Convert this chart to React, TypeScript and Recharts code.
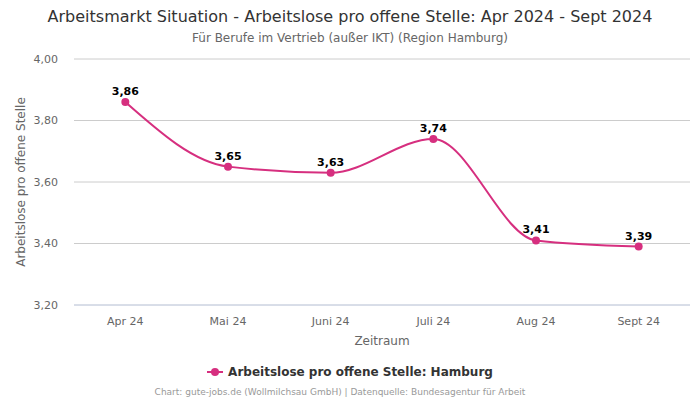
import { LineChart, Line, XAxis, YAxis, CartesianGrid, LabelList } from "recharts";

const months = ["Apr 24", "Mai 24", "Juni 24", "Juli 24", "Aug 24", "Sept 24"];
const hamburg = [3.86, 3.65, 3.63, 3.74, 3.41, 3.39];
const yTicks = [3.2, 3.4, 3.6, 3.8, 4.0];

const data = months.map((m, i) => ({ month: m, value: hamburg[i] }));

const COLOR = "#d62f7f";
const FONT = "'DejaVu Sans', sans-serif";
const fmt = (v: number) => v.toFixed(2).replace(".", ",");

export default function App() {
  return (
    <div style={{ position: "relative", width: 700, height: 400, fontFamily: FONT, background: "#fff" }}>
      <style>{"body{margin:0}"}</style>
      <div style={{ position: "absolute", top: 7, width: 700, textAlign: "center", fontSize: 16, color: "#333" }}>
        Arbeitsmarkt Situation - Arbeitslose pro offene Stelle: Apr 2024 - Sept 2024
      </div>
      <div style={{ position: "absolute", top: 31, width: 700, textAlign: "center", fontSize: 12, color: "#666" }}>
        Für Berufe im Vertrieb (außer IKT) (Region Hamburg)
      </div>
      <LineChart width={700} height={400} data={data} margin={{ top: 59, right: 10, bottom: 55, left: 0 }}>
        <CartesianGrid horizontal vertical={false} stroke="#cccccc" />
        <XAxis
          dataKey="month"
          scale="band"
          tickLine={false}
          axisLine={{ stroke: "#ccd6eb" }}
          tick={{ fontSize: 11, fill: "#666" }}
          tickMargin={6}
          height={40}
          label={{ value: "Zeitraum", position: "insideBottom", offset: 0, fontSize: 12, fill: "#666" }}
        />
        <YAxis
          domain={[3.2, 4.0]}
          ticks={yTicks}
          tickFormatter={fmt}
          axisLine={false}
          tickLine={false}
          width={74}
          tick={{ fontSize: 11, fill: "#666" }}
          tickMargin={10}
          label={{
            value: "Arbeitslose pro offene Stelle",
            angle: -90,
            position: "insideLeft",
            offset: 21,
            style: { textAnchor: "middle", fontSize: 12, fill: "#666" },
          }}
        />
        <Line
          type="monotone"
          dataKey="value"
          stroke={COLOR}
          strokeWidth={2}
          dot={{ r: 4, fill: COLOR, stroke: COLOR, strokeWidth: 0 }}
          isAnimationActive={false}
        >
          <LabelList dataKey="value" position="top" offset={7} formatter={(v: any) => fmt(Number(v))}
            style={{ fontSize: 11, fontWeight: "bold", fill: "#000" }} />
        </Line>
      </LineChart>
      <div style={{ position: "absolute", top: 365, width: 700, display: "flex", justifyContent: "center", alignItems: "center" }}>
        <svg width={16} height={12} style={{ marginRight: 5 }}>
          <line x1={0} y1={6} x2={16} y2={6} stroke={COLOR} strokeWidth={2} />
          <circle cx={8} cy={6} r={4} fill={COLOR} />
        </svg>
        <span style={{ fontSize: 12, fontWeight: "bold", color: "#333" }}>
          Arbeitslose pro offene Stelle: Hamburg
        </span>
      </div>
      <div style={{ position: "absolute", top: 387, left: 0, width: 680, textAlign: "center", fontSize: 9, color: "#999" }}>
        Chart: gute-jobs.de (Wollmilchsau GmbH) | Datenquelle: Bundesagentur für Arbeit
      </div>
    </div>
  );
}
